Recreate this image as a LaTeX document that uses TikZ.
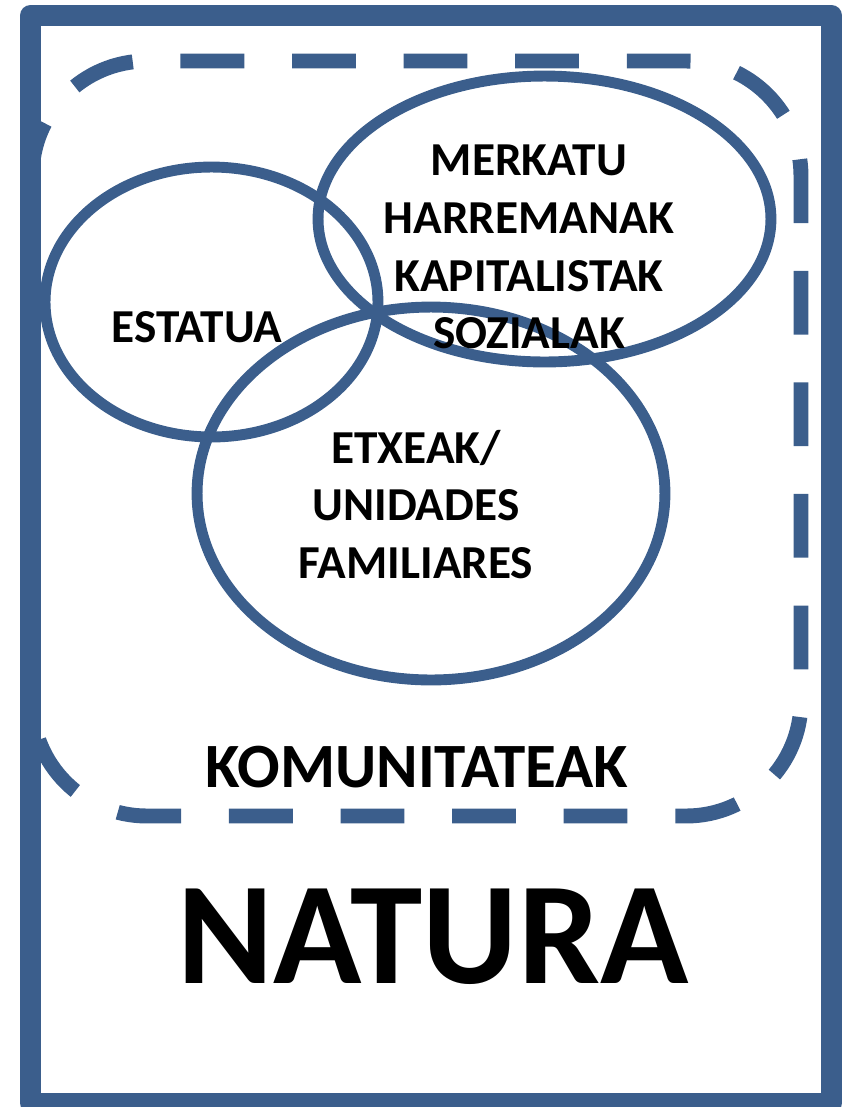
\documentclass[tikz,border=0pt]{standalone}
\usepackage{fontspec}
\setmainfont{Carlito}
\usetikzlibrary{shapes}
\definecolor{natblue}{RGB}{59,94,140}
\tikzstyle{frame}=[draw=natblue,line width=11.9pt,line join=round]
\tikzstyle{komu}=[draw=natblue,line width=8.5pt,dash pattern=on 36.3pt off 27.2pt,dash phase=41.6pt,rounded corners=2.3cm]
\tikzstyle{ell}=[ellipse,draw=natblue,line width=6.2pt,inner sep=0pt]
\tikzstyle{lbl}=[font=\fontsize{26.9}{32.9}\selectfont\bfseries,align=center,inner sep=0pt]

\begin{document}
\begin{tikzpicture}[x=0.02cm,y=-0.02cm]
     \useasboundingbox (0,0) rectangle (843,1107);
     \draw [komu] (32,450) -- (32,61) -- (801,61) -- (801,816) -- (32,816) -- cycle;
     \node [ell, minimum width=6.66cm, minimum height=5.4cm] (estatua) at (211.5,302) {};
     \node [ell, minimum width=9.06cm, minimum height=5.72cm] (merkatu) at (544.5,219) {};
     \node [ell, minimum width=9.36cm, minimum height=7.46cm] (etxeak) at (431,493.5) {};
     \node [lbl] (estatuaT) at (197,327.5) {ESTATUA};
     \node [lbl] (merkatuT) at (529,247) {MERKATU\\HARREMANAK\\KAPITALISTAK\\SOZIALAK};
     \node [lbl] (etxeakT) at (416,504.5) {ETXEAK/\\UNIDADES\\FAMILIARES};
     \node [lbl, font=\fontsize{35.9}{43}\selectfont\bfseries] (komuT) at (417,767) {KOMUNITATEAK};
     \node [lbl, font=\fontsize{83}{99}\selectfont\bfseries] (naturaT) at (433,937) {NATURA};
     \draw [frame] (30.5,15.5) rectangle (831.5,1103);
\end{tikzpicture}
\end{document}
